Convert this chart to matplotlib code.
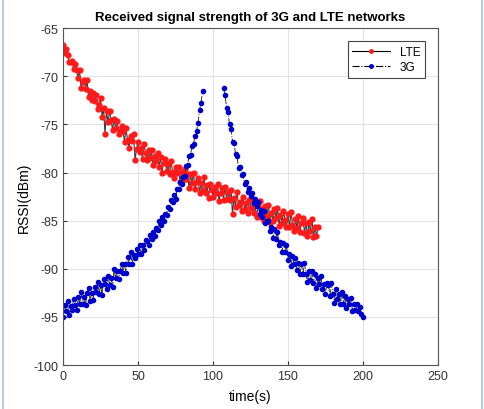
import numpy as np
import matplotlib
matplotlib.use('Agg')
import matplotlib.pyplot as plt
from matplotlib.lines import Line2D

plt.rcParams['font.family'] = ['Liberation Sans', 'DejaVu Sans']
plt.rcParams['axes.unicode_minus'] = False

# LTE samples, one per second from t=0 to t=170
lte_t = np.arange(0, 171)
lte_rssi = [
    -66.8, -67.6, -67.2, -67.8, -68.5, -68.5, -68.4, -69.2, -68.7, -69.4,
    -70.2, -69.4, -71.2, -70.6, -70.4, -71.3, -70.4, -72.2, -71.5, -72.5,
    -71.7, -72.6, -71.9, -73.4, -73.0, -72.3, -74.2, -73.3, -76.0, -73.6,
    -74.8, -73.6, -74.5, -75.6, -74.4, -75.4, -74.6, -76.0, -75.7, -75.2,
    -75.7, -76.8, -75.4, -76.6, -77.4, -76.2, -76.7, -76.0, -78.7, -77.6,
    -76.8, -77.9, -77.4, -78.6, -77.0, -78.0, -78.7, -77.7, -78.5, -77.7,
    -79.2, -78.3, -78.8, -78.0, -79.4, -78.4, -80.0, -79.0, -78.6, -79.8,
    -79.1, -80.2, -78.8, -79.9, -80.6, -79.4, -80.0, -79.4, -81.0, -79.9,
    -80.8, -79.6, -80.7, -80.2, -81.6, -80.2, -81.1, -80.0, -81.7, -81.0,
    -80.6, -82.1, -81.1, -81.8, -80.5, -82.1, -81.3, -82.6, -81.2, -81.8,
    -82.5, -81.5, -82.1, -81.2, -83.0, -82.1, -81.6, -82.8, -81.5, -82.7,
    -82.0, -82.9, -81.8, -84.3, -82.6, -83.6, -82.0, -83.4, -83.1, -84.0,
    -82.5, -83.8, -83.2, -84.2, -82.8, -83.7, -82.7, -84.2, -83.4, -84.6,
    -83.4, -83.0, -84.6, -83.8, -85.0, -83.5, -84.5, -83.4, -85.1, -84.2,
    -85.0, -83.8, -84.7, -83.7, -85.5, -84.4, -85.2, -84.0, -84.9, -85.7,
    -84.3, -85.7, -84.1, -85.4, -86.1, -84.8, -85.8, -84.5, -86.2, -85.2,
    -84.7, -86.3, -85.2, -86.6, -85.1, -86.1, -84.8, -86.7, -85.7, -86.6,
    -85.7,
]

# 3G samples: rising part t=0..93, falling part t=107..200 (gap in between)
g3_t_up = np.arange(0, 94)
g3_rssi_up = [
    -95.0, -93.8, -94.4, -93.3, -94.8, -93.9, -94.3, -93.1, -93.8, -94.3,
    -92.9, -93.7, -92.4, -93.7, -92.9, -93.8, -92.5, -92.0, -93.3, -92.5,
    -93.2, -91.9, -92.4, -91.4, -92.6, -91.7, -92.7, -91.1, -91.6, -92.1,
    -90.7, -91.7, -91.0, -91.9, -90.0, -91.0, -90.2, -91.1, -90.2, -89.5,
    -90.4, -89.5, -90.4, -88.8, -89.5, -88.3, -89.5, -88.6, -88.9, -87.9,
    -88.5, -87.5, -88.5, -87.5, -88.0, -87.0, -87.1, -87.5, -86.5, -86.9,
    -86.2, -86.6, -85.8, -86.0, -85.0, -85.4, -84.6, -85.0, -84.3, -84.4,
    -83.6, -83.8, -82.8, -83.1, -82.3, -82.7, -81.7, -81.7, -81.0, -81.2,
    -80.5, -80.4, -79.3, -79.2, -78.3, -78.2, -77.2, -77.0, -76.2, -75.7,
    -74.9, -73.5, -72.8, -71.5,
]
g3_t_down = np.arange(107, 201)
g3_rssi_down = [
    -71.2, -71.9, -73.3, -73.7, -75.0, -75.5, -76.8, -76.9, -78.1, -78.3,
    -79.5, -79.4, -80.3, -80.2, -81.2, -81.0, -82.0, -81.6, -82.4, -82.1,
    -83.2, -82.7, -83.5, -83.1, -84.3, -83.9, -84.6, -84.0, -85.2, -85.0,
    -85.0, -86.1, -85.7, -86.8, -85.9, -86.9, -86.2, -87.5, -87.2, -88.2,
    -87.3, -88.3, -87.5, -89.1, -88.5, -89.7, -88.7, -89.5, -88.9, -90.1,
    -89.4, -90.5, -89.5, -90.5, -89.4, -90.5, -91.4, -90.2, -91.2, -90.2,
    -91.5, -90.5, -92.0, -91.0, -91.6, -90.7, -92.1, -91.6, -92.6, -91.5,
    -91.7, -92.8, -91.5, -92.6, -93.5, -92.1, -93.1, -92.6, -93.6, -92.4,
    -93.6, -92.8, -94.1, -93.1, -93.7, -93.0, -94.4, -93.6, -94.3, -93.7,
    -94.4, -94.0, -94.7, -95.0,
]

xticks = [0, 50, 100, 150, 200, 250]
yticks = [-100, -95, -90, -85, -80, -75, -70, -65]

fig = plt.figure(figsize=(4.85, 4.10), dpi=100)
ax = fig.add_axes([0.130, 0.107, 0.773, 0.822])

ax.plot(lte_t, lte_rssi, '-', color='#3a3a3a', lw=0.8,
        marker='.', markersize=7, markerfacecolor='#ff1a1a', markeredgecolor='#ff1a1a')
g3_t = np.concatenate([g3_t_up, [np.nan], g3_t_down])
g3_v = np.concatenate([g3_rssi_up, [np.nan], g3_rssi_down])
ax.plot(g3_t, g3_v, '-.', color='#333333', lw=0.7,
        marker='.', markersize=6, markerfacecolor='#0000cc', markeredgecolor='#0000cc')

ax.set_xlim(0, 250)
ax.set_ylim(-100, -65)
ax.set_xticks(xticks)
ax.set_yticks(yticks)
ax.grid(True, color='#e3e3e3', lw=0.8)
ax.set_axisbelow(True)
ax.tick_params(direction='in', length=3, labelsize=9, colors='#333333')
for s in ax.spines.values():
    s.set_color('#555555')
    s.set_linewidth(0.8)

ax.set_title('Received signal strength of 3G and LTE networks',
             fontsize=9.5, fontweight='bold', pad=6)
ax.set_xlabel('time(s)', fontsize=10, labelpad=5)
ax.set_ylabel('RSSI(dBm)', fontsize=10, labelpad=2)

handles = [
    Line2D([], [], color='black', lw=0.8, marker='.', markersize=5,
           markerfacecolor='#ff1a1a', markeredgecolor='#ff1a1a'),
    Line2D([], [], color='black', lw=0.8, ls='-.', marker='.', markersize=5,
           markerfacecolor='#0000cc', markeredgecolor='#0000cc'),
]
leg = ax.legend(handles, ['LTE', '3G'], loc='upper right', fontsize=8.5,
                fancybox=False, framealpha=1, edgecolor='#444444',
                borderaxespad=1.1, handlelength=3.2, labelspacing=0.3,
                borderpad=0.4)
leg.get_frame().set_linewidth(0.8)

# thin window border seen on the left and right of the screenshot
fig.add_artist(Line2D([0.006, 0.006], [0, 1], color='#a8c0e0', lw=1.2))
fig.add_artist(Line2D([0.994, 0.994], [0, 1], color='#a8c0e0', lw=1.2))

fig.savefig('out.png', dpi=100)
